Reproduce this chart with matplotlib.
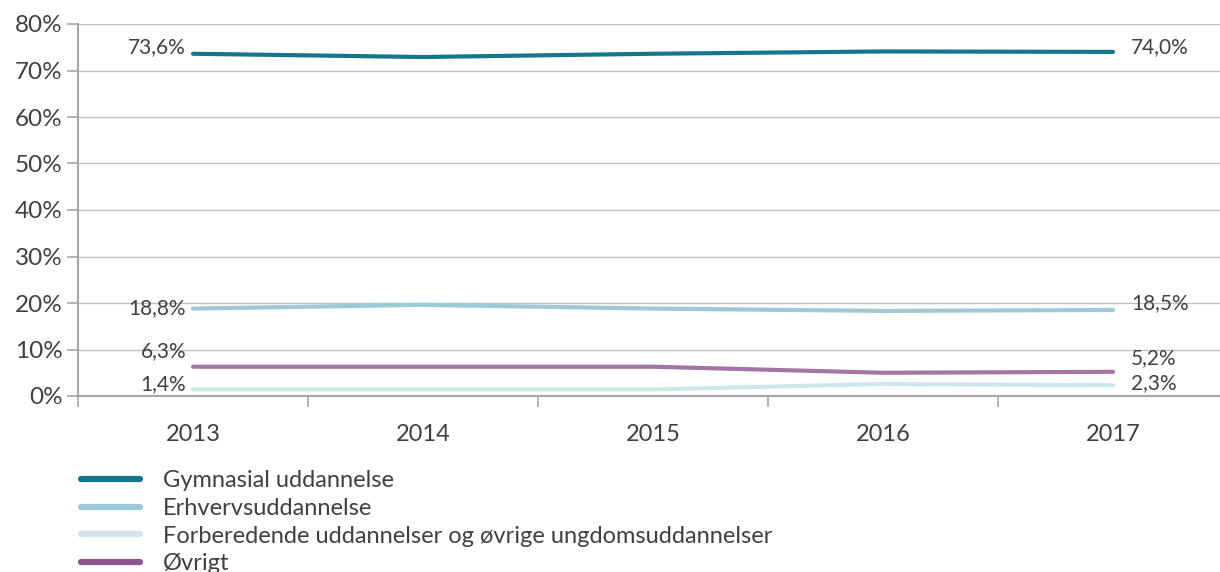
import matplotlib.pyplot as plt

years = ["2013", "2014", "2015", "2016", "2017"]
gymnasial = [73.6, 72.9, 73.6, 74.1, 74.0]
erhverv = [18.8, 19.6, 18.8, 18.3, 18.5]
forberedende = [1.4, 1.4, 1.4, 2.6, 2.3]
oevrigt = [6.3, 6.3, 6.3, 5.0, 5.2]

names = ["Gymnasial uddannelse", "Erhvervsuddannelse",
         "Forberedende uddannelser og øvrige ungdomsuddannelser", "Øvrigt"]
colors = ["#17768f", "#9ccad6", "#cfe6ec", "#a275a5"]
legend_colors = ["#17768f", "#9ccad6", "#cfe6ec", "#8b558d"]
# label offsets (points) so the end labels do not collide
left_dy = [5, 0, 4, 11]
right_dy = [3.5, 5, 1.5, 10]

plt.rcParams["font.family"] = ["Lato", "DejaVu Sans"]
text_color = "#404040"

fig = plt.figure(figsize=(12.2, 5.72), dpi=100)
ax = fig.add_axes([78 / 1220, 1 - 396 / 572, 1150 / 1220, 372 / 572])

x = list(range(len(years)))
series = [gymnasial, erhverv, forberedende, oevrigt]
lines = []
for vals, c, lc, n in zip(series, colors, legend_colors, names):
    ax.plot(x, vals, color=c, lw=3, solid_capstyle="round", zorder=3)
    lines.append(plt.Line2D([], [], color=lc, lw=4.5, solid_capstyle="round", label=n))

def fmt(v):
    return f"{v:.1f}%".replace(".", ",")

for vals, ldy, rdy in zip(series, left_dy, right_dy):
    ax.annotate(fmt(vals[0]), (x[0], vals[0]), xytext=(-5, ldy), textcoords="offset points",
                ha="right", va="center", fontsize=15, color=text_color)
    ax.annotate(fmt(vals[-1]), (x[-1], vals[-1]), xytext=(13, rdy), textcoords="offset points",
                ha="left", va="center", fontsize=15, color=text_color)

ax.set_xlim(-0.5, 4.5)
ax.set_ylim(0, 80)
ax.set_yticks(range(0, 81, 10))
ax.set_yticklabels([f"{v}%" for v in range(0, 81, 10)])
ax.set_xticks(x)
ax.set_xticklabels(years)
ax.set_xticks([i + 0.5 for i in range(-1, 5)], minor=True)
ax.tick_params(axis="x", which="major", length=0, pad=20, labelsize=17, labelcolor=text_color)
ax.tick_params(axis="x", which="minor", length=8, width=1.2, color="#a6a6a6", direction="out")
ax.tick_params(axis="y", length=8, width=1.2, color="#a6a6a6", labelsize=17.5,
               labelcolor=text_color, pad=3)
ax.grid(axis="y", color="#c0c0c0", lw=1)
ax.set_axisbelow(True)
for s in ["top", "right"]:
    ax.spines[s].set_visible(False)
for s in ["left", "bottom"]:
    ax.spines[s].set_color("#a6a6a6")
    ax.spines[s].set_linewidth(1.5)

fig.legend(handles=lines, loc="upper left", bbox_to_anchor=(72 / 1220, 1 - 461 / 572),
           frameon=False, fontsize=17, handlelength=2.5, handletextpad=0.95,
           labelspacing=0.28, labelcolor=text_color, borderaxespad=0)

fig.savefig("out.png", dpi=100)
